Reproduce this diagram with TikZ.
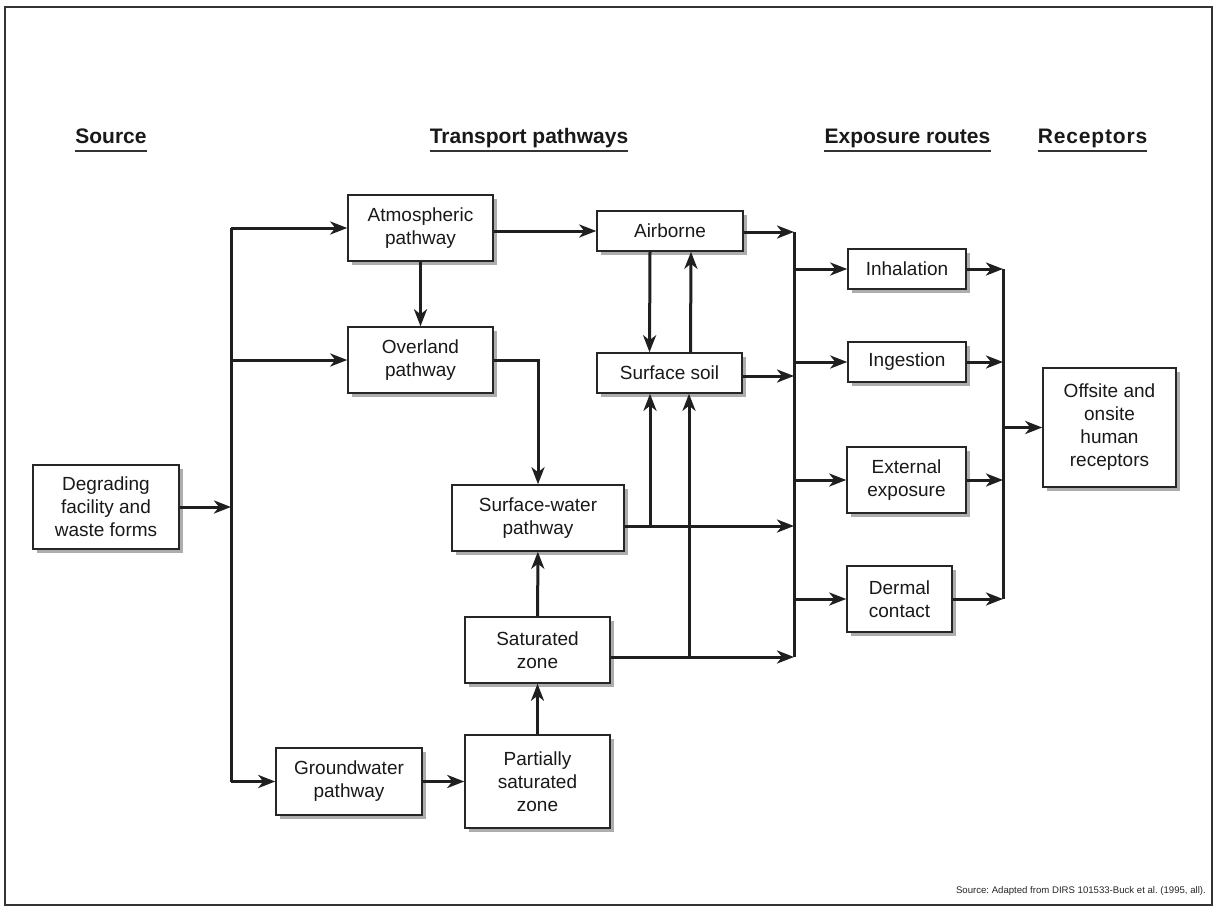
\documentclass[tikz,border=0pt]{standalone}
\usepackage{fontspec}
\setmainfont{Liberation Sans}
\frenchspacing
\usetikzlibrary{arrows.meta,shadows}
\begin{document}
\begin{tikzpicture}[x=1bp,y=-1bp,
  box/.style={draw=black!85, line width=1.5bp, fill=white, align=center, inner sep=0pt,
    font=\fontsize{19bp}{23bp}\selectfont, text=black!90,
    drop shadow={shadow xshift=4bp, shadow yshift=-4bp, fill=black!32, opacity=1}},
  hdr/.style={font=\bfseries\fontsize{21bp}{25bp}\selectfont, inner sep=0pt, anchor=base, text=black!90},
  conn/.style={line width=3bp, draw=black!88},
  arr/.style={conn, -{Stealth[length=17bp,width=13bp,inset=5bp]}}]
\useasboundingbox (0,0) rectangle (1214,910);
\draw[line width=2bp, draw=black!80] (5,7) rectangle (1212,905);

% headers
\node[hdr] (h1) at (111,143) {Source};
\node[hdr] (h2) at (529,143) {Transport pathways};
\node[hdr] (h3) at (907.5,143) {Exposure routes};
\node[hdr] (h4) at (1092.5,143) {\addfontfeature{LetterSpace=4}Receptors};
\foreach \h in {h1,h2,h3,h4}
  \draw[line width=1.8bp, draw=black!80] ([yshift=-8bp]\h.base west) -- ([yshift=-8bp]\h.base east);

% boxes
\node[box, minimum width=146bp, minimum height=84bp] (deg) at (106,507) {Degrading\\facility and\\waste forms};
\node[box, minimum width=145bp, minimum height=66bp] (atm) at (420.5,228) {Atmospheric\\pathway};
\node[box, minimum width=145bp, minimum height=66bp] (over) at (420.5,360) {Overland\\pathway};
\node[box, minimum width=146bp, minimum height=40bp] (air) at (670,231) {Airborne};
\node[box, minimum width=145bp, minimum height=40bp] (soil) at (669.5,373) {Surface soil};
\node[box, minimum width=172bp, minimum height=66bp] (sw) at (538,518) {Surface-water\\pathway};
\node[box, minimum width=145bp, minimum height=66bp] (sat) at (537.5,650) {Saturated\\zone};
\node[box, minimum width=145bp, minimum height=93bp] (part) at (537.5,781.5) {Partially\\saturated\\zone};
\node[box, minimum width=146bp, minimum height=67bp] (gw) at (349,781.5) {Groundwater\\pathway};
\node[box, minimum width=118bp, minimum height=40bp] (inh) at (907,269) {Inhalation};
\node[box, minimum width=118bp, minimum height=40bp] (ing) at (907,362) {Ingestion};
\node[box, minimum width=119bp, minimum height=66bp] (ext) at (906.5,480) {External\\exposure};
\node[box, minimum width=105bp, minimum height=66bp] (derm) at (899.5,599) {Dermal\\contact};
\node[box, minimum width=133bp, minimum height=119bp] (off) at (1109.5,427.5) {Offsite and\\onsite\\human\\receptors};

% source note
\node[font=\fontsize{9.6bp}{11bp}\selectfont, text=black!85, anchor=east, inner sep=0pt] (note) at (1206,891) {Source: Adapted from DIRS 101533-Buck et al. (1995, all).};

% bus 1
\coordinate (b1a) at (231,228);
\coordinate (b1b) at (231,360);
\coordinate (b1c) at (231,507);
\coordinate (b1d) at (231,781.5);
\draw[conn] (b1a) -- (b1d);
\draw[arr] (deg) -- (b1c);
\draw[arr] (b1a) -- (atm);
\draw[arr] (b1b) -- (over);
\draw[arr] (b1d) -- (gw);

% transport
\draw[arr] (atm.east |- air) -- (air);
\draw[arr] (atm) -- (over);
\draw[arr] (over.east) -| (sw.north);
\draw[arr] ([xshift=-20bp]air.south) -- ([xshift=-20bp]soil.north);
\draw[arr] ([xshift=21bp]soil.north) -- ([xshift=21bp]air.south);
\draw[arr] (sat) -- (sw);
\draw[arr] (part) -- (sat);
\draw[arr] (gw) -- (part);

% bus 2
\coordinate (b2a) at (794,232);
\coordinate (b2s) at (794,376);
\coordinate (b2w) at (794,526);
\coordinate (b2z) at (794,657);
\coordinate (j1) at (650,526);
\coordinate (j2) at (689,657);
\draw[conn] (b2a) -- (b2z);
\draw[arr] (air.east |- b2a) -- (b2a);
\draw[arr] (soil.east |- b2s) -- (b2s);
\draw[arr] (sw.east |- b2w) -- (b2w);
\draw[arr] (sat.east |- b2z) -- (b2z);
\draw[arr] (j1) -- (j1 |- soil.south);
\draw[arr] (j2) -- (j2 |- soil.south);
\draw[arr] (b2a |- inh) -- (inh);
\draw[arr] (b2a |- ing) -- (ing);
\draw[arr] (b2a |- ext) -- (ext);
\draw[arr] (b2a |- derm) -- (derm);

% bus 3
\coordinate (b3a) at (1003,269);
\coordinate (b3z) at (1003,599);
\draw[conn] (b3a) -- (b3z);
\draw[arr] (inh) -- (b3a);
\draw[arr] (ing) -- (b3a |- ing);
\draw[arr] (ext) -- (b3a |- ext);
\draw[arr] (derm) -- (b3z);
\draw[arr] (b3a |- off) -- (off);
\end{tikzpicture}
\end{document}
